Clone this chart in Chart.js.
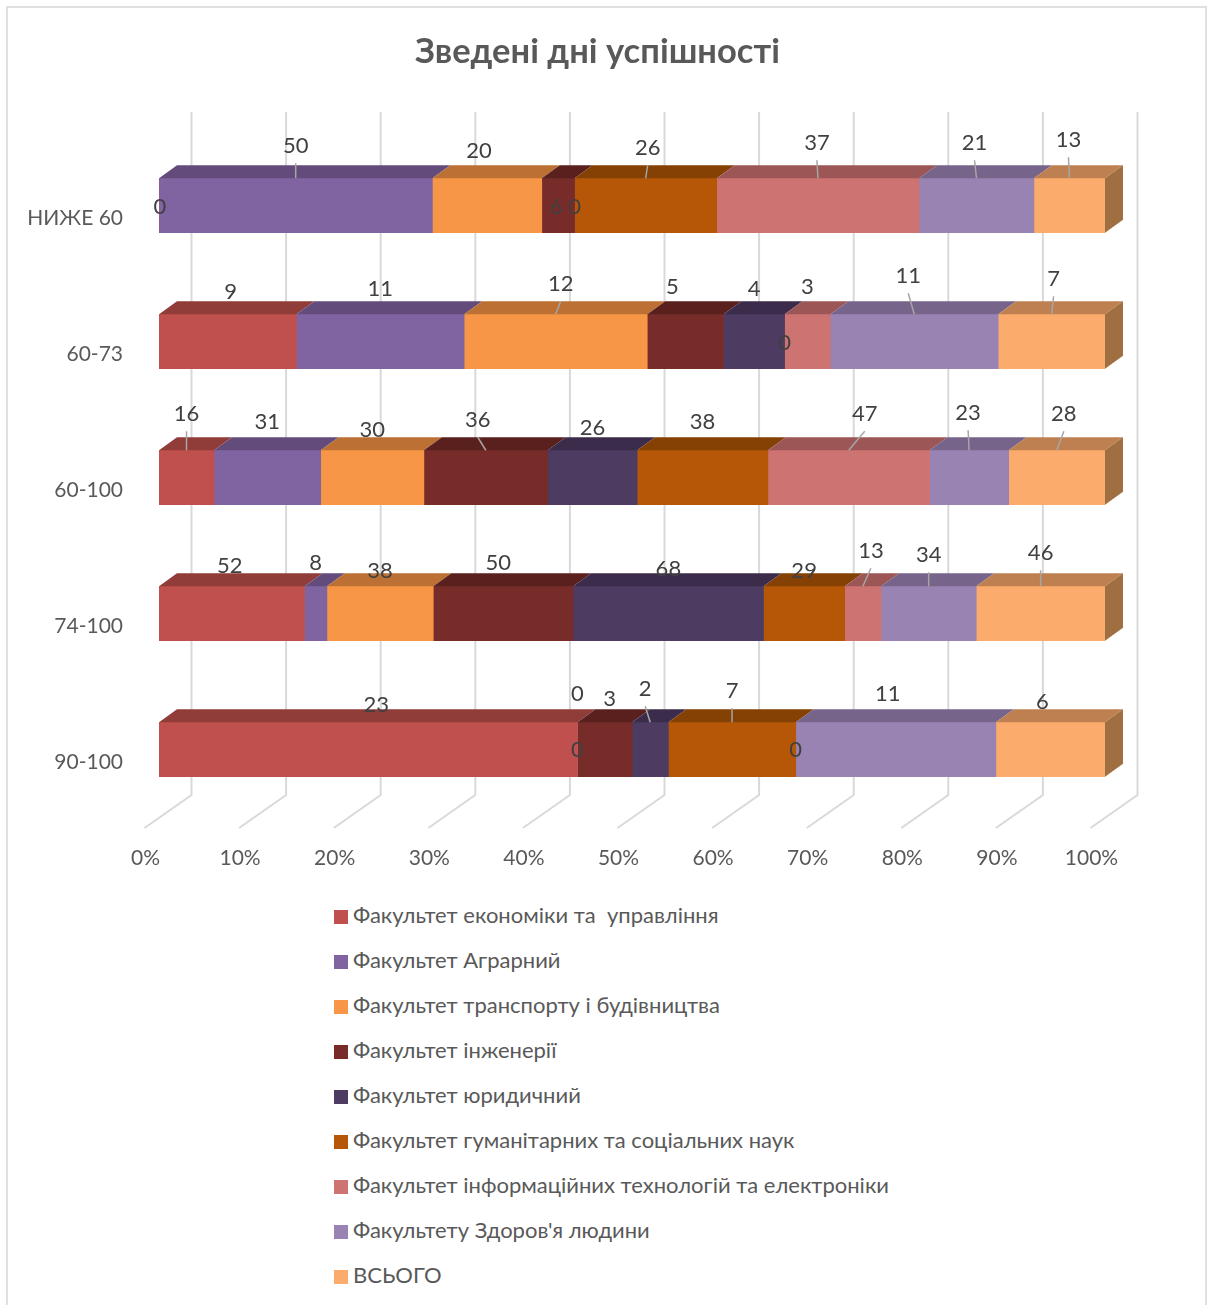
<!DOCTYPE html>
<html>
<head>
<meta charset="utf-8">
<title>Зведені дні успішності</title>
<script src="https://cdn.jsdelivr.net/npm/chart.js@4"></script>
<style>
  html, body { margin: 0; padding: 0; background: #fff; }
  body { position: relative; width: 1212px; height: 1305px; overflow: hidden; font-family: Lato, "Open Sans", sans-serif; }
  #frame { position: absolute; left: 6px; top: 6px; width: 1197px; height: 1400px; border: 2px solid #e0e0e0; }
  #chart { position: absolute; left: 0; top: 0; }
  #legend { position: absolute; left: 334px; top: 892px; margin: 0; padding: 0; list-style: none; color: #595959; font-size: 22px; }
  #legend li { height: 45px; line-height: 45px; white-space: pre; }
  #legend i { display: inline-block; width: 14px; height: 14px; margin-right: 5px; vertical-align: -1px; }
</style>
</head>
<body>
<div id="frame"></div>
<canvas id="chart" width="1195" height="885"></canvas>
<ul id="legend"></ul>
<script>
const categories = ["НИЖЕ 60", "60-73", "60-100", "74-100", "90-100"];

const seriesNames = [
    "Факультет економіки та  управління",
    "Факультет Аграрний",
    "Факультет транспорту і будівництва",
    "Факультет інженерії",
    "Факультет юридичний",
    "Факультет гуманітарних та соціальних наук",
    "Факультет інформаційних технологій та електроніки",
    "Факультету Здоров'я людини",
    "ВСЬОГО"
];

const economy = [0, 9, 16, 52, 23];
const agrarian = [50, 11, 31, 8, 0];
const transport = [20, 12, 30, 38, 0];
const engineering = [6, 5, 36, 50, 3];
const law = [0, 4, 26, 68, 2];
const humanities = [26, 0, 38, 29, 7];
const infoTech = [37, 3, 47, 13, 0];
const health = [21, 11, 23, 34, 11];
const total = [13, 7, 28, 46, 6];

const seriesValues = [economy, agrarian, transport, engineering, law, humanities, infoTech, health, total];

const frontColors = ['#C0504D', '#8064A2', '#F79646', '#772C2A', '#4D3B62', '#B65708', '#CD7371', '#9983B3', '#FBAB6B'];
const topColors = ['#903C39', '#634C7B', '#BC7033', '#5A201E', '#3C2C4B', '#854003', '#9B5655', '#77648A', '#BE8051'];
const sideColor = '#A06F41';

// depth of the fake 3d box, in pixels
const depthX = 18;
const depthY = 13;

// hand moved data labels: [dx from segment centre, dy from front top edge], one row per series
const labelNudge = [
    [[1, 29], [3, -22], [0, -36], [-2, -20], [8, -17]],
    [[0, -32], [0, -25], [0, -28], [0, -23], [0, -28]],
    [[-8, -27], [5, -30], [0, -20], [0, -15], [0, 28]],
    [[-2, 29], [-13, -27], [-8, -30], [-5, -23], [5, -23]],
    [[0, 29], [0, -25], [0, -22], [0, -17], [-5, -33]],
    [[2, -30], [0, 29], [0, -28], [0, -15], [0, -31]],
    [[-1, -35], [0, -27], [16, -36], [8, -35], [0, 28]],
    [[-2, -35], [-6, -38], [-1, -37], [0, -31], [-8, -28]],
    [[-1, -38], [2, -35], [7, -36], [0, -33], [-8, -20]]
];

// every stack is shown as a share of its own sum
const rowSums = categories.map((c, i) => seriesValues.reduce((s, v) => s + v[i], 0));

const datasets = seriesNames.map((name, s) => ({
    label: name,
    data: seriesValues[s].map((v, i) => v / rowSums[i] * 100),
    backgroundColor: frontColors[s],
    borderWidth: 0,
    barThickness: 54.5
}));

// title is centred on the whole canvas, not on the padded box
const titlePlugin = {
    id: 'titleCentre',
    beforeDraw(chart) {
        chart.titleBlock.right = chart.width;
    }
};

// back wall grid lines with the little diagonal on the floor
const gridPlugin = {
    id: 'grid3d',
    beforeDatasetsDraw(chart) {
        const ctx = chart.ctx;
        const x = chart.scales.x;
        ctx.save();
        ctx.strokeStyle = '#D9D9D9';
        ctx.lineWidth = 2;
        x.ticks.forEach(t => {
            const px = x.getPixelForValue(t.value);
            ctx.beginPath();
            ctx.moveTo(px + 32.5, 112);
            ctx.lineTo(px + 32.5, 795);
            ctx.lineTo(px - 14.5, 828);
            ctx.stroke();
        });
        ctx.restore();
    }
};

// top and right faces of the stacks, then the value labels and their leaders
const facesPlugin = {
    id: 'faces3d',
    afterDatasetsDraw(chart) {
        const ctx = chart.ctx;
        ctx.save();
        chart.data.datasets.forEach((ds, s) => {
            chart.getDatasetMeta(s).data.forEach((bar, i) => {
                if (seriesValues[s][i] === 0) return;
                const top = bar.y - bar.height / 2;
                ctx.fillStyle = topColors[s];
                ctx.beginPath();
                ctx.moveTo(bar.base, top);
                ctx.lineTo(bar.base + depthX, top - depthY);
                ctx.lineTo(bar.x + depthX, top - depthY);
                ctx.lineTo(bar.x, top);
                ctx.closePath();
                ctx.fill();
                if (s === chart.data.datasets.length - 1) {
                    ctx.fillStyle = sideColor;
                    ctx.beginPath();
                    ctx.moveTo(bar.x, top);
                    ctx.lineTo(bar.x + depthX, top - depthY);
                    ctx.lineTo(bar.x + depthX, top - depthY + bar.height);
                    ctx.lineTo(bar.x, top + bar.height);
                    ctx.closePath();
                    ctx.fill();
                }
            });
        });
        ctx.font = '22px Lato, "Open Sans", sans-serif';
        ctx.textAlign = 'center';
        ctx.textBaseline = 'middle';
        chart.data.datasets.forEach((ds, s) => {
            chart.getDatasetMeta(s).data.forEach((bar, i) => {
                const top = bar.y - bar.height / 2;
                const mid = (bar.base + bar.x) / 2;
                const lx = mid + labelNudge[s][i][0];
                const ly = top + labelNudge[s][i][1];
                if (labelNudge[s][i][1] <= -29) {
                    ctx.strokeStyle = '#A6A6A6';
                    ctx.lineWidth = 1.5;
                    ctx.beginPath();
                    ctx.moveTo(lx, ly + 17);
                    ctx.lineTo(mid, top);
                    ctx.stroke();
                }
                ctx.fillStyle = '#404040';
                ctx.fillText(seriesValues[s][i], lx, ly);
            });
        });
        ctx.restore();
    }
};

const chart = new Chart(document.getElementById('chart'), {
    type: 'bar',
    data: { labels: categories, datasets: datasets },
    plugins: [titlePlugin, gridPlugin, facesPlugin],
    options: {
        indexAxis: 'y',
        responsive: false,
        animation: false,
        layout: { padding: { top: 0, right: 90, bottom: 0, left: 0 } },
        plugins: {
            legend: { display: false },
            tooltip: { enabled: false },
            title: {
                display: true,
                text: 'Зведені дні успішності',
                color: '#595959',
                font: { family: 'Lato, "Open Sans", sans-serif', size: 34.5, weight: 'bold' },
                padding: { top: 31, bottom: 65.1 }
            }
        },
        scales: {
            x: {
                stacked: true,
                min: 0,
                max: 100,
                grid: { display: false, drawTicks: false },
                border: { display: false },
                ticks: {
                    stepSize: 10,
                    padding: 28,
                    labelOffset: -13.5,
                    maxRotation: 0,
                    color: '#595959',
                    font: { family: 'Lato, "Open Sans", sans-serif', size: 21 },
                    callback: v => v + '%'
                },
                afterFit: s => { s.height = 67.5; }
            },
            y: {
                stacked: true,
                grid: { display: false, drawTicks: false },
                border: { display: false },
                ticks: {
                    padding: 36,
                    labelOffset: 12.5,
                    color: '#595959',
                    font: { family: 'Lato, "Open Sans", sans-serif', size: 21 }
                },
                afterFit: s => { s.width = 159; }
            }
        }
    }
});

const legend = document.getElementById('legend');
chart.data.datasets.forEach(ds => {
    const li = document.createElement('li');
    const swatch = document.createElement('i');
    swatch.style.background = ds.backgroundColor;
    li.appendChild(swatch);
    li.appendChild(document.createTextNode(ds.label));
    legend.appendChild(li);
});
</script>
</body>
</html>
